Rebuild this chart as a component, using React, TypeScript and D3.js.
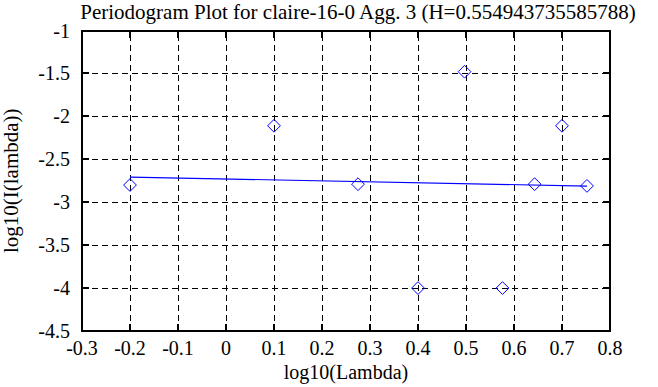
import React, { useEffect, useRef } from 'react';
import * as d3 from 'd3';

// log10(lambda) vs log10(I(lambda)) for each frequency
const logLambda = [-0.2, 0.1, 0.275, 0.4, 0.497, 0.576, 0.643, 0.7, 0.752];
const logPower = [-2.8, -2.11, -2.79, -4.0, -1.48, -4.0, -2.79, -2.11, -2.81];

// least squares fit end points
const fitX = [-0.2, 0.752];
const fitY = [-2.707, -2.812];

const xTicks = [-0.3, -0.2, -0.1, 0, 0.1, 0.2, 0.3, 0.4, 0.5, 0.6, 0.7, 0.8];
const yTicks = [-1, -1.5, -2, -2.5, -3, -3.5, -4, -4.5];

const title = 'Periodogram Plot for claire-16-0 Agg. 3 (H=0.554943735585788)';

export default function App() {
  const svgRef = useRef<SVGSVGElement>(null);

  useEffect(() => {
    const width = 658;
    const height = 387;
    const margin = { top: 30.5, right: 48, bottom: 56, left: 82 };
    const font = 'Liberation Serif, DejaVu Serif, Times New Roman, serif';
    const fmt = (d: number) => String(d);

    d3.select(svgRef.current).selectAll('*').remove();
    const svg = d3.select(svgRef.current)
      .attr('width', width)
      .attr('height', height)
      .style('font-family', font);

    const xScale = d3.scaleLinear()
      .domain([-0.3, 0.8])
      .range([margin.left, width - margin.right]);
    const yScale = d3.scaleLinear()
      .domain([-4.5, -1])
      .range([height - margin.bottom, margin.top]);

    const [x0, x1] = xScale.range();
    const [y0, y1] = yScale.range();

    // dashed grid
    svg.append('g')
      .selectAll('line')
      .data(xTicks)
      .join('line')
      .attr('x1', d => xScale(d))
      .attr('x2', d => xScale(d))
      .attr('y1', y0)
      .attr('y2', y1)
      .attr('stroke', '#000')
      .attr('stroke-width', 1)
      .attr('stroke-dasharray', '6,4')
      .attr('shape-rendering', 'crispEdges');

    svg.append('g')
      .selectAll('line')
      .data(yTicks)
      .join('line')
      .attr('x1', x0)
      .attr('x2', x1)
      .attr('y1', d => yScale(d))
      .attr('y2', d => yScale(d))
      .attr('stroke', '#000')
      .attr('stroke-width', 1)
      .attr('stroke-dasharray', '6,4')
      .attr('shape-rendering', 'crispEdges');

    // inward ticks on all sides
    const tickLen = 7;
    const ticks = svg.append('g')
      .attr('stroke', '#000')
      .attr('stroke-width', 2)
      .attr('shape-rendering', 'crispEdges');
    xTicks.forEach(t => {
      ticks.append('line').attr('x1', xScale(t)).attr('x2', xScale(t)).attr('y1', y0).attr('y2', y0 - tickLen);
      ticks.append('line').attr('x1', xScale(t)).attr('x2', xScale(t)).attr('y1', y1).attr('y2', y1 + tickLen);
    });
    yTicks.forEach(t => {
      ticks.append('line').attr('x1', x0).attr('x2', x0 + tickLen).attr('y1', yScale(t)).attr('y2', yScale(t));
      ticks.append('line').attr('x1', x1).attr('x2', x1 - tickLen).attr('y1', yScale(t)).attr('y2', yScale(t));
    });

    // frame
    svg.append('rect')
      .attr('x', x0)
      .attr('y', y1)
      .attr('width', x1 - x0)
      .attr('height', y0 - y1)
      .attr('fill', 'none')
      .attr('stroke', '#000')
      .attr('stroke-width', 2)
      .attr('shape-rendering', 'crispEdges');

    // fit line
    const fitLine = d3.line<number>()
      .x((d, i) => xScale(fitX[i]))
      .y(d => yScale(d));
    svg.append('path')
      .datum(fitY)
      .attr('fill', 'none')
      .attr('stroke', '#0000ff')
      .attr('stroke-width', 1.2)
      .attr('d', fitLine);

    // diamonds
    const diamond = d3.symbol().type(d3.symbolDiamond2).size(104);
    svg.append('g')
      .selectAll('path')
      .data(logLambda)
      .join('path')
      .attr('transform', (d, i) => `translate(${xScale(d)},${yScale(logPower[i])})`)
      .attr('d', diamond)
      .attr('fill', 'none')
      .attr('stroke', '#0000ff')
      .attr('stroke-width', 1);

    // tick labels
    svg.append('g')
      .selectAll('text')
      .data(xTicks)
      .join('text')
      .attr('x', d => xScale(d))
      .attr('y', y0 + 24)
      .attr('text-anchor', 'middle')
      .style('font-size', '20px')
      .text(fmt);

    svg.append('g')
      .selectAll('text')
      .data(yTicks)
      .join('text')
      .attr('x', x0 - 12)
      .attr('y', d => yScale(d) + 7)
      .attr('text-anchor', 'end')
      .style('font-size', '20px')
      .text(fmt);

    // titles
    svg.append('text')
      .attr('x', 358)
      .attr('y', 19)
      .attr('text-anchor', 'middle')
      .style('font-size', '21px')
      .text(title);

    svg.append('text')
      .attr('x', (x0 + x1) / 2)
      .attr('y', 379)
      .attr('text-anchor', 'middle')
      .style('font-size', '20px')
      .text('log10(Lambda)');

    svg.append('text')
      .attr('transform', `translate(18,${(y0 + y1) / 2}) rotate(-90)`)
      .attr('text-anchor', 'middle')
      .style('font-size', '21px')
      .text('log10(I(lambda))');
  }, []);

  return (
    <svg ref={svgRef} style={{ position: 'absolute', left: 0, top: 0, background: '#fff' }}></svg>
  );
}
